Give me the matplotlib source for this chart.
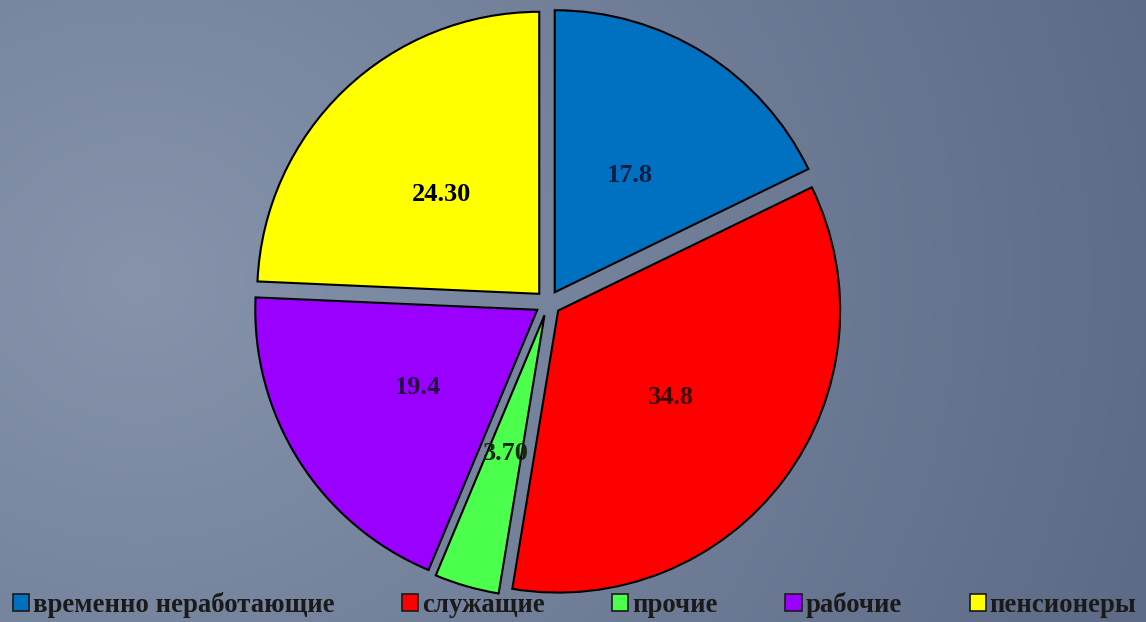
import numpy as np
import matplotlib.pyplot as plt
from matplotlib.patches import Patch

# data
categories = ["временно неработающие", "служащие", "прочие", "рабочие", "пенсионеры"]
values = [17.8, 34.8, 3.7, 19.4, 24.3]
value_labels = ["17.8", "34.8", "3.70", "19.4", "24.30"]
colors = ["#0070c0", "#ff0000", "#4dff4d", "#9900ff", "#ffff00"]
label_colors = ["#0d1d45", "#3a0000", "#16260f", "#24103f", "#000000"]

plt.rcParams['font.family'] = ['Liberation Serif', 'DejaVu Serif']

fig = plt.figure(figsize=(11.46, 6.22), dpi=100)

# background gradient (lighter on the left, darker to the right)
bg = fig.add_axes([0, 0, 1, 1])
bg.set_axis_off()
yy, xx = np.mgrid[0:1:200j, 0:1:400j]
d = np.sqrt(((xx - 0.12) * 1.0) ** 2 + ((yy - 0.45) * 0.6) ** 2)
d = np.clip(d / 0.95, 0, 1)
c0 = np.array([0x86, 0x93, 0xab]) / 255
c1 = np.array([0x5c, 0x6a, 0x86]) / 255
img = c0[None, None, :] * (1 - d[..., None]) + c1[None, None, :] * d[..., None]
bg.imshow(img, aspect='auto', extent=[0, 1, 0, 1], origin='upper')
bg.set_xlim(0, 1)
bg.set_ylim(0, 1)

# pie axes: 1 data unit ~ 282 px
W, H = 1146, 622
R = 282
cx, cy = 548, 622 - 303
half = 1.1 * R
ax = fig.add_axes([(cx - half) / W, (cy - half) / H, 2 * half / W, 2 * half / H])
ax.set_xlim(-1.1, 1.1)
ax.set_ylim(-1.1, 1.1)
ax.set_axis_off()

wedges, texts = ax.pie(values, colors=colors, startangle=90, counterclock=False,
                       explode=[0.045] * len(values),
                       wedgeprops=dict(edgecolor="black", linewidth=1.5),
                       labels=value_labels, labeldistance=0.5,
                       textprops=dict(fontsize=19, fontweight='bold'))
for t, c in zip(texts, label_colors):
    t.set_color(c)
    t.set_horizontalalignment('center')
    t.set_verticalalignment('center_baseline')
ax.set_xlim(-1.1, 1.1)
ax.set_ylim(-1.1, 1.1)

handles = [Patch(facecolor=c, edgecolor="#1a1a1a", linewidth=1.2) for c in colors]
leg = fig.legend(handles, categories, loc='lower left', bbox_to_anchor=(-0.003, -0.02),
                 ncol=5, frameon=False, handlelength=0.6, handleheight=0.6,
                 handletextpad=0.15, columnspacing=2.52, borderaxespad=0.2,
                 prop=dict(size=19.3, weight='bold'))
for t in leg.get_texts():
    t.set_color("#1a1a1a")

fig.savefig("out.png", dpi=100)
